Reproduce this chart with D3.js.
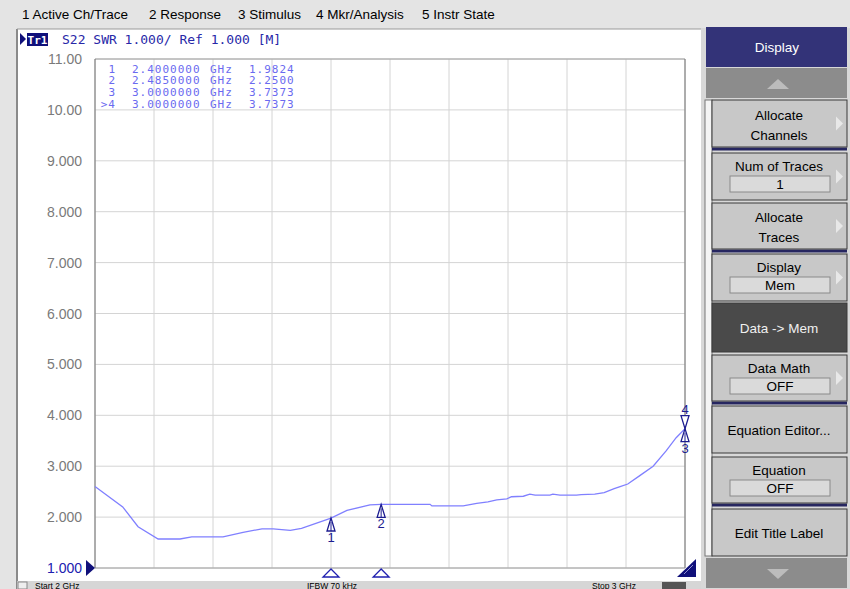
<!DOCTYPE html>
<html>
<head>
<meta charset="utf-8">
<script src="https://cdn.jsdelivr.net/npm/d3@7"></script>
<style>
  body { margin: 0; background: #e4e4e4; }
  svg { display: block; }
</style>
</head>
<body>
<svg id="chart" width="850" height="589"></svg>
<script>
'use strict';
// trace data: frequency (GHz) and SWR
var freqs = [2.000, 2.047, 2.073, 2.107, 2.144, 2.164, 2.217, 2.251, 2.283, 2.302, 2.331, 2.350,
  2.400, 2.427, 2.466, 2.485, 2.517, 2.568, 2.571, 2.624, 2.647, 2.666, 2.681, 2.698, 2.706,
  2.726, 2.737, 2.746, 2.771, 2.776, 2.788, 2.816, 2.824, 2.847, 2.863, 2.880, 2.890, 2.903,
  2.924, 2.946, 2.968, 2.985, 3.000];
var swr = [2.60, 2.20, 1.81, 1.57, 1.57, 1.61, 1.61, 1.70, 1.77, 1.77, 1.74, 1.78,
  1.98, 2.13, 2.24, 2.25, 2.25, 2.25, 2.22, 2.22, 2.27, 2.30, 2.34, 2.36, 2.40,
  2.41, 2.45, 2.43, 2.43, 2.45, 2.43, 2.43, 2.44, 2.45, 2.48, 2.56, 2.60, 2.65,
  2.82, 3.00, 3.30, 3.56, 3.7373];

var yTicks = [1, 2, 3, 4, 5, 6, 7, 8, 9, 10, 11];
var yTickLabels = ['1.000', '2.000', '3.000', '4.000', '5.000', '6.000', '7.000', '8.000', '9.000', '10.00', '11.00'];
var xTicks = [2.0, 2.1, 2.2, 2.3, 2.4, 2.5, 2.6, 2.7, 2.8, 2.9, 3.0];

var markerIds = ['1', '2', '3', '>4'];
var markerFreqs = [2.4, 2.485, 3.0, 3.0];
var markerFreqText = ['2.4000000', '2.4850000', '3.0000000', '3.0000000'];
var markerValues = ['1.9824', '2.2500', '3.7373', '3.7373'];

var menuItems = ['1 Active Ch/Trace', '2 Response', '3 Stimulus', '4 Mkr/Analysis', '5 Instr State'];
var menuX = [22, 149, 238, 316, 422];

var statusTexts = ['Start 2 GHz', 'IFBW 70 kHz', 'Stop 3 GHz'];
var statusX = [35, 307, 592];

var softkeys = [
  { lines: ['Allocate', 'Channels'], y0: 100, y1: 147, arrow: true },
  { lines: ['Num of Traces'], field: '1', y0: 153, y1: 200, arrow: true },
  { lines: ['Allocate', 'Traces'], y0: 203, y1: 249, arrow: true },
  { lines: ['Display'], field: 'Mem', y0: 254, y1: 301, arrow: true },
  { lines: ['Data -> Mem'], y0: 303, y1: 352, dark: true },
  { lines: ['Data Math'], field: 'OFF', y0: 355, y1: 401, arrow: true },
  { lines: ['Equation Editor...'], y0: 406, y1: 453 },
  { lines: ['Equation'], field: 'OFF', y0: 457, y1: 503 },
  { lines: ['Edit Title Label'], y0: 509, y1: 556 }
];
var separators = [149, 251, 403, 505];

var svg = d3.select('#chart');
var ui = 'Liberation Sans, Arial, sans-serif';
var mono = 'DejaVu Sans Mono, monospace';

var x = d3.scaleLinear().domain([2, 3]).range([95, 685]);
var y = d3.scaleLinear().domain([1, 11]).range([568, 59]);

// menu bar
svg.append('rect').attr('x', 0).attr('y', 0).attr('width', 850).attr('height', 28).style('fill', '#e4e4e4');
svg.selectAll('.menu').data(menuItems).enter().append('text')
  .attr('x', function (d, i) { return menuX[i]; }).attr('y', 19)
  .style('font-family', ui).style('font-size', '13.5px').style('fill', '#000')
  .text(function (d) { return d; });

// chart window
svg.append('rect').attr('x', 17).attr('y', 29).attr('width', 684).attr('height', 552).style('fill', '#fff');
svg.append('line').attr('x1', 17).attr('x2', 17).attr('y1', 29).attr('y2', 589).style('stroke', '#8a8a8a').style('stroke-width', 2);
svg.append('line').attr('x1', 17).attr('x2', 701).attr('y1', 29).attr('y2', 29).style('stroke', '#9a9a9a');

// header
svg.append('path').attr('d', 'M20,33 L26,39 L20,45 Z').style('fill', '#10107a');
svg.append('rect').attr('x', 27).attr('y', 33).attr('width', 21).attr('height', 13).style('fill', '#10107a');
svg.append('text').attr('x', 37.5).attr('y', 44).attr('text-anchor', 'middle')
  .style('font-family', mono).style('font-size', '11px').style('font-weight', 'bold').style('fill', '#fff').text('Tr1');
svg.append('text').attr('x', 62).attr('y', 44)
  .style('font-family', mono).style('font-size', '13px').style('fill', '#2828a8')
  .text('S22 SWR 1.000/ Ref 1.000 [M]');

// grid
var g = svg.append('g');
g.selectAll('.vgrid').data(xTicks).enter().append('line')
  .attr('x1', function (d) { return x(d); }).attr('x2', function (d) { return x(d); })
  .attr('y1', y(11)).attr('y2', y(1)).style('stroke', '#d4d4d4');
g.selectAll('.hgrid').data(yTicks).enter().append('line')
  .attr('x1', x(2)).attr('x2', x(3))
  .attr('y1', function (d) { return y(d); }).attr('y2', function (d) { return y(d); }).style('stroke', '#d4d4d4');
g.append('line').attr('x1', x(2)).attr('x2', x(3)).attr('y1', y(11)).attr('y2', y(11)).style('stroke', '#a0a0a0');
g.append('line').attr('x1', x(2)).attr('x2', x(3)).attr('y1', y(1)).attr('y2', y(1)).style('stroke', '#a0a0a0');
g.append('line').attr('x1', x(2)).attr('x2', x(2)).attr('y1', y(11)).attr('y2', y(1)).style('stroke', '#707070');
g.append('line').attr('x1', x(3)).attr('x2', x(3)).attr('y1', y(11)).attr('y2', y(1)).style('stroke', '#707070');

// y labels
g.selectAll('.ylab').data(yTicks).enter().append('text')
  .attr('x', 82).attr('y', function (d) { return y(d) + 5; }).attr('text-anchor', 'end')
  .style('font-family', ui).style('font-size', '14px')
  .style('fill', function (d) { return d === 1 ? '#2020b0' : '#7a7a7a'; })
  .text(function (d, i) { return yTickLabels[i]; });
svg.append('path').attr('d', 'M86,' + (y(1) - 8) + ' L95,' + y(1) + ' L86,' + (y(1) + 8) + ' Z').style('fill', '#10107a');

// marker table
var tbl = svg.append('g').style('font-family', mono).style('font-size', '11px')
  .style('letter-spacing', '1px').style('fill', '#6a6af0');
markerIds.forEach(function (id, i) {
  var ty = 72.5 + i * 11.7;
  tbl.append('text').attr('x', 116).attr('y', ty).attr('text-anchor', 'end').text(id);
  tbl.append('text').attr('x', 132).attr('y', ty).text(markerFreqText[i]);
  tbl.append('text').attr('x', 210).attr('y', ty).text('GHz');
  tbl.append('text').attr('x', 249).attr('y', ty).text(markerValues[i]);
});

// trace
var line = d3.line().x(function (d) { return x(d[0]); }).y(function (d) { return y(d[1]); });
svg.append('path').datum(d3.zip(freqs, swr)).attr('d', line)
  .style('fill', 'none').style('stroke', '#8080ff').style('stroke-width', 1.3);

// trace markers
var mk = svg.append('g').style('font-family', ui).style('font-size', '13px').style('fill', '#1c1c90');
markerFreqs.forEach(function (f, i) {
  var mx = x(f);
  var my = y(+markerValues[i]);
  var n = markerIds[i].replace('>', '');
  if (n === '4') {
    mk.append('path').attr('d', 'M' + mx + ',' + my + ' L' + (mx - 4) + ',' + (my - 13) + ' L' + (mx + 4) + ',' + (my - 13) + ' Z')
      .style('fill', '#fff').style('stroke', '#1c1c90').style('stroke-width', 1.3);
    mk.append('text').attr('x', mx).attr('y', my - 15).attr('text-anchor', 'middle').text(n);
  } else {
    mk.append('path').attr('d', 'M' + mx + ',' + my + ' L' + (mx - 4) + ',' + (my + 13) + ' L' + (mx + 4) + ',' + (my + 13) + ' Z')
      .style('fill', '#fff').style('stroke', '#1c1c90').style('stroke-width', 1.3);
    mk.append('line').attr('x1', mx).attr('x2', mx).attr('y1', my + 4).attr('y2', my + 13).style('stroke', '#1c1c90');
    mk.append('text').attr('x', mx).attr('y', my + 24).attr('text-anchor', 'middle').text(n);
  }
  // stimulus marker at the bottom
  if (f < 3) {
    mk.append('path').attr('d', 'M' + mx + ',' + (y(1) + 1) + ' L' + (mx - 8) + ',' + (y(1) + 9) + ' L' + (mx + 8) + ',' + (y(1) + 9) + ' Z')
      .style('fill', 'none').style('stroke', '#2020b0').style('stroke-width', 1.3);
  }
});
svg.append('path').attr('d', 'M696,559 L696,577 L677,577 Z').style('fill', '#10107a');
svg.append('line').attr('x1', 684).attr('y1', 574).attr('x2', 693).attr('y2', 565).style('stroke', '#9090d0');

// status bar
svg.append('rect').attr('x', 17).attr('y', 581).attr('width', 684).attr('height', 8).style('fill', '#d6d6d6');
svg.append('rect').attr('x', 18).attr('y', 582).attr('width', 9).attr('height', 7).style('fill', '#eee').style('stroke', '#888');
svg.selectAll('.status').data(statusTexts).enter().append('text')
  .attr('x', function (d, i) { return statusX[i]; }).attr('y', 588.5)
  .style('font-family', ui).style('font-size', '8.5px').style('fill', '#000')
  .text(function (d) { return d; });
svg.append('rect').attr('x', 662).attr('y', 582).attr('width', 24).attr('height', 7).style('fill', '#555');

// softkey panel
var p = svg.append('g');
p.append('rect').attr('x', 701).attr('y', 28).attr('width', 149).attr('height', 561).style('fill', '#d8d8d8');
p.append('rect').attr('x', 706).attr('y', 27).attr('width', 141).attr('height', 40).style('fill', '#333378');
p.append('text').attr('x', 777).attr('y', 52).attr('text-anchor', 'middle')
  .style('font-family', ui).style('font-size', '13.5px').style('fill', '#fff').text('Display');
p.append('rect').attr('x', 706).attr('y', 68).attr('width', 141).attr('height', 30).style('fill', '#8c8c8c');
p.append('path').attr('d', 'M767,89 L778,79 L789,89 Z').style('fill', '#bcbcbc');
p.append('rect').attr('x', 705).attr('y', 100).attr('width', 7).attr('height', 456).style('fill', '#f4f4f4').style('stroke', '#777');

separators.forEach(function (sy) {
  p.append('rect').attr('x', 712).attr('y', sy - 1.5).attr('width', 135).attr('height', 3).style('fill', '#262660');
});

softkeys.forEach(function (k) {
  p.append('rect').attr('x', 712).attr('y', k.y0).attr('width', 135).attr('height', k.y1 - k.y0)
    .style('fill', k.dark ? '#4a4a4a' : '#c8c8c8').style('stroke', '#3a3a3a').style('stroke-width', 1);
  var cy = (k.y0 + k.y1) / 2;
  var tc = k.dark ? '#f0f0f0' : '#000';
  var fs = '13.5px';
  if (k.field) {
    p.append('text').attr('x', 779).attr('y', k.y0 + 18).attr('text-anchor', 'middle')
      .style('font-family', ui).style('font-size', fs).style('fill', tc).text(k.lines[0]);
    p.append('rect').attr('x', 730).attr('y', k.y0 + 23).attr('width', 100).attr('height', 16)
      .style('fill', '#dadada').style('stroke', '#8a8a8a');
    p.append('text').attr('x', 780).attr('y', k.y0 + 36).attr('text-anchor', 'middle')
      .style('font-family', ui).style('font-size', fs).style('fill', tc).text(k.field);
  } else if (k.lines.length === 2) {
    p.append('text').attr('x', 779).attr('y', cy - 4).attr('text-anchor', 'middle')
      .style('font-family', ui).style('font-size', fs).style('fill', tc).text(k.lines[0]);
    p.append('text').attr('x', 779).attr('y', cy + 16).attr('text-anchor', 'middle')
      .style('font-family', ui).style('font-size', fs).style('fill', tc).text(k.lines[1]);
  } else {
    p.append('text').attr('x', 779).attr('y', cy + 5).attr('text-anchor', 'middle')
      .style('font-family', ui).style('font-size', fs).style('fill', tc).text(k.lines[0]);
  }
  if (k.arrow) {
    p.append('path').attr('d', 'M836,' + (cy - 7) + ' L843,' + cy + ' L836,' + (cy + 7) + ' Z').style('fill', '#e8e8e8');
  }
});
p.append('rect').attr('x', 706).attr('y', 558).attr('width', 141).attr('height', 30).style('fill', '#8c8c8c');
p.append('path').attr('d', 'M767,569 L778,579 L789,569 Z').style('fill', '#bcbcbc');
</script>
</body>
</html>
